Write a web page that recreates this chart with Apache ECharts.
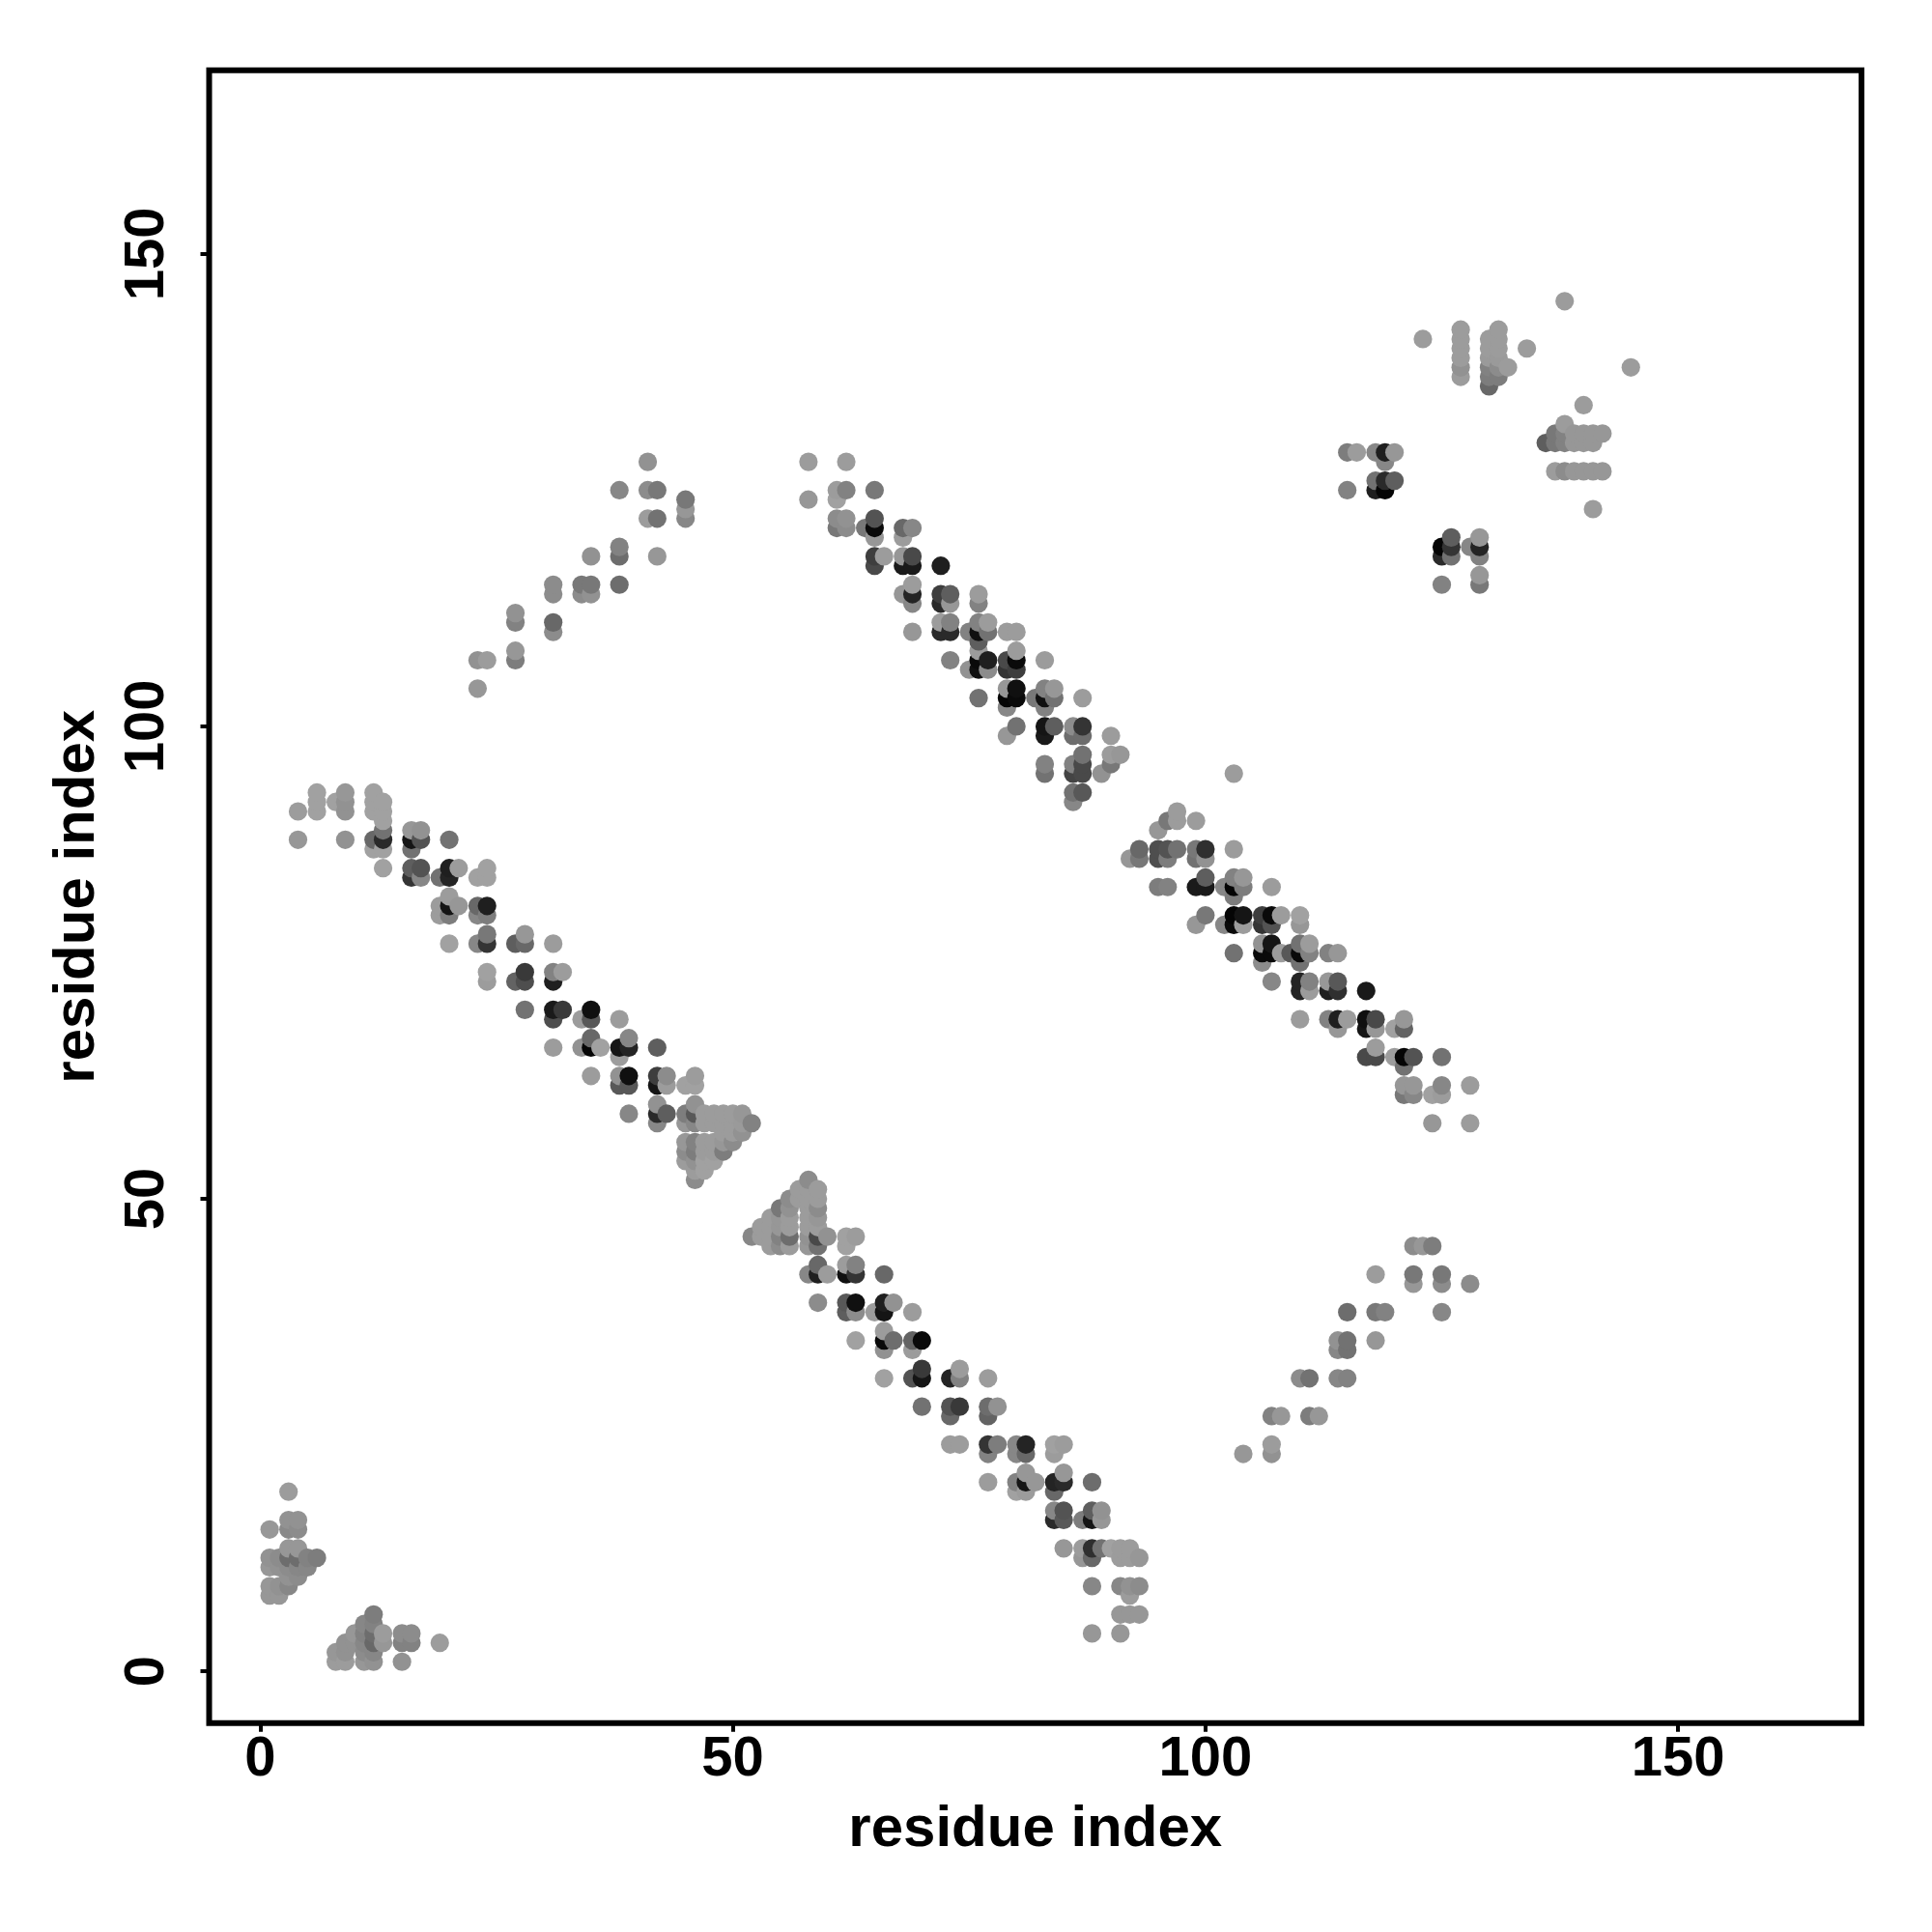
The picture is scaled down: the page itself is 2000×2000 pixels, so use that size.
<!DOCTYPE html>
<html>
<head>
<meta charset="utf-8">
<style>html,body{margin:0;padding:0;background:#fff}#c{width:2000px;height:2000px}</style>
<script src="https://cdn.jsdelivr.net/npm/echarts@6/dist/echarts.min.js"></script>
</head>
<body>
<div id="c"></div>
<script>
// Each entry: [residue x, residue y, grey level 0-255]
const cornerA = [[3,19,150],[1,15,145],[3,16,140],[4,16,140],[3,15,132],[4,15,135],[3,13,145],[4,13,145],
[1,12,140],[2,12,135],[3,12,105],[4,12,105],[5,12,125],[6,12,120],[1,11,145],[2,11,140],[3,11,135],[4,11,130],[5,11,130],
[3,10,140],[4,10,135],[1,9,145],[2,9,140],[3,9,130],[1,8,145],[2,8,145]];
const cornerB = [[12,6,120],[11,5,130],[12,5,125],[10,4,145],[11,4,125],[12,4,105],[13,4,150],[15,4,135],[16,4,135],
[9,3,140],[10,3,140],[11,3,130],[12,3,100],[13,3,145],[15,3,125],[16,3,125],[19,3,150],[8,2,145],[9,2,140],[11,2,135],[12,2,130],
[8,1,150],[9,1,150],[11,1,145],[12,1,140],[15,1,140]];
const diagA1 = [[6,93,155],[6,92,155],[6,91,155],[9,93,145],[8,92,155],[9,92,140],[9,91,140],[4,91,150],[4,88,145],
[12,93,155],[12,92,155],[13,92,155],[12,91,155],[13,91,155],[13,90,155],[9,88,140],[12,88,100],[13,89,110],[13,88,40],[12,87,155],[13,87,155],[13,85,155],
[16,89,145],[17,89,140],[16,88,20],[17,88,80],[16,87,110],[20,88,110],[16,85,90],[17,85,80],[16,84,50],[17,84,130],[19,84,110],[20,85,30],[20,84,35],[21,85,150],
[23,84,155],[24,85,155],[24,84,155],[20,82,150],[19,81,150],[20,81,20],[21,81,145],[19,80,150],[20,80,120],[23,81,100],[24,81,30],[23,80,130],[24,80,120],
[20,77,155],[23,77,130],[24,78,115],[24,77,50],[27,77,90],[28,78,145],[28,77,100],[31,77,150],[24,74,155],[24,73,150],[27,73,95],[28,74,55],[28,73,75],
[31,74,125],[32,74,150],[31,73,30],[28,70,110],[31,70,25],[32,70,55],[31,69,75],[34,69,150],[35,70,15],[35,69,85],[35,67,100],[31,66,150],[34,66,140],[35,66,5],[36,66,155],[35,63,150]];
const diagA2 = [[38,69,150],[38,66,20],[39,67,130],[39,66,35],[38,65,150],[42,66,90],[38,63,140],[39,63,15],[38,62,85],[39,62,85],
[42,63,60],[43,63,135],[42,62,20],[43,62,150],[45,62,155],[46,63,150],[46,62,155],[39,59,130],[42,60,140],[42,59,40],[43,59,90],[42,58,130],
[45,59,120],[46,60,140],[46,59,85],[45,58,145],[46,58,130]];
const triangleA = [[47,59,150],[48,59,150],[49,59,150],[50,59,150],[51,59,145],[47,58,150],[48,58,150],[49,58,150],[50,58,150],[51,58,148],[52,58,125],
[49,57,150],[50,57,150],[51,57,140],[45,56,145],[46,56,125],[47,56,150],[48,56,150],[49,56,145],[50,56,135],[45,55,135],[46,55,120],[47,55,150],[48,55,150],[49,55,120],
[45,54,150],[46,54,140],[47,54,155],[48,54,155],[46,53,150],[47,53,155],[46,52,135]];
const triangleB = [[58,52,135],[57,51,150],[58,51,150],[59,51,150],[56,50,135],[57,50,150],[58,50,150],[59,50,150],[55,49,115],[56,49,140],[58,49,150],[59,49,135],
[54,48,150],[55,48,145],[56,48,150],[58,48,150],[59,48,145],[53,47,150],[54,47,150],[55,47,145],[56,47,150],[58,47,150],[59,47,150],
[52,46,130],[53,46,150],[54,46,150],[55,46,125],[56,46,105],[58,46,140],[59,46,70],[60,46,140],[54,45,150],[55,45,135],[56,45,150],[58,45,145],[59,45,110],
[62,46,155],[63,46,150],[62,45,155]];
const diagA3 = [[59,43,100],[58,42,130],[59,42,30],[60,42,150],[62,43,150],[63,43,125],[62,42,15],[63,42,50],[66,42,100],
[59,39,135],[62,39,85],[63,39,15],[62,38,90],[63,38,135],[65,38,150],[66,39,30],[66,38,20],[67,39,140],[69,38,150],
[63,35,155],[66,36,150],[66,35,10],[67,35,105],[66,34,140],[69,35,95],[70,35,10],[69,34,150],
[66,31,155],[69,31,80],[70,32,55],[70,31,20],[73,31,35],[74,32,150],[74,31,125],[77,31,150],
[70,28,110],[73,28,80],[74,28,55],[73,27,100],[77,28,105],[78,28,140],[77,27,95],
[73,24,150],[74,24,150],[77,24,50],[78,24,120],[77,23,125],[80,24,130],[81,24,35],[80,23,130],[81,23,100],[84,24,155],[85,24,150],[84,23,150],
[77,20,150],[80,20,125],[81,21,145],[81,20,20],[82,20,145],[80,19,155],[81,19,150],[84,20,35],[85,20,40],[85,21,145],[84,19,100],[88,20,105],
[84,17,130],[85,17,80],[84,16,40],[85,16,85],[87,16,120],[88,17,90],[88,16,20],[89,17,140],[89,16,145],
[85,13,145],[87,13,150],[88,13,45],[89,13,110],[90,13,155],[91,13,150],[92,13,150],[87,12,145],[88,12,100],[91,12,150],[92,12,150],[93,12,145],
[88,9,130],[91,9,130],[92,9,140],[93,9,135],[92,8,150],[91,6,145],[92,6,145],[93,6,145],[88,4,145],[91,4,145]];
const diagB1 = [[58,128,150],[62,128,150],[58,124,145],[61,125,150],[62,125,125],[61,124,155],[65,125,115],[61,122,135],[62,122,140],[61,121,115],[62,121,135],
[64,121,115],[65,122,80],[65,121,10],[65,120,145],[68,121,100],[69,121,130],[68,120,150],[65,118,60],[66,118,150],[65,117,70],
[68,118,145],[69,118,70],[68,117,25],[69,117,25],[72,117,30],[68,114,145],[69,115,150],[69,114,35],[69,113,130],[72,114,60],[73,114,90],[72,113,40],[73,113,145],[76,114,150],[76,113,125],
[69,110,145],[72,111,150],[73,111,125],[72,110,40],[73,110,40],[75,110,125],[76,111,125],[77,111,150],[76,110,15],[77,110,110],[76,109,90],[79,110,150],[80,110,150],
[73,107,125],[76,108,150],[75,106,140],[76,107,10],[77,107,30],[76,106,15],[77,106,135],[79,107,70],[80,108,150],[80,107,10],[79,106,50],[80,106,60],[83,107,150],
[76,103,110],[79,104,145],[80,104,15],[79,103,5],[80,103,10],[79,102,130],[82,103,115],[83,104,125],[84,104,145],[83,103,15],[84,103,110],[83,102,125],[87,103,150],
[80,100,110],[79,99,145],[83,100,20],[84,100,90],[83,99,25],[86,100,135],[87,100,50],[86,99,105],[87,99,105],[90,99,150],[90,97,150],[91,97,145],[90,96,115],[89,95,140],
[83,96,125],[83,95,110],[87,97,110],[86,96,125],[87,96,70],[86,95,65],[87,95,70],[86,93,110],[87,93,85],[86,92,130]];
const diagB2 = [[103,95,150],[97,91,150],[96,90,115],[97,90,150],[99,90,150],[95,89,145],[93,87,100],[92,86,145],[93,86,115],[95,87,75],[96,87,80],[97,87,110],[95,86,75],[96,86,120],
[99,87,115],[100,87,45],[99,86,110],[100,86,140],[103,87,150],[95,83,120],[96,83,125],[99,83,25],[100,84,90],[100,83,25],[102,83,130],[103,84,125],[104,84,145],[103,83,5],[104,83,120],[103,82,120],[107,83,150],
[100,80,115],[99,79,145],[102,79,130],[103,80,5],[104,80,20],[103,79,10],[104,79,150],[106,80,60],[107,80,10],[108,80,150],[106,79,50],[107,79,80],[110,80,155],[110,79,145],
[103,76,110],[106,77,140],[107,77,20],[106,76,10],[107,76,10],[106,75,135],[108,76,150],[109,76,85],[110,77,110],[111,77,150],[110,76,10],[111,76,125],[110,75,110],[113,76,125],[114,76,145],
[107,73,130],[110,73,35],[111,73,125],[110,72,35],[111,72,150],[113,73,145],[114,73,85],[113,72,30],[114,72,45],[117,72,25],
[110,69,150],[113,69,125],[114,69,30],[115,69,150],[114,68,145],[117,69,15],[118,69,70],[117,68,20],[118,68,145],[120,68,155],[121,69,145],[121,68,95],
[117,65,70],[118,66,150],[118,65,70],[120,65,150],[121,65,5],[122,65,80],[121,64,110],[125,65,110],[121,62,145],[122,62,145],[121,61,115],[122,61,130],
[124,61,155],[125,62,130],[125,61,150],[128,62,150],[124,58,145],[128,58,150]];
const upperRight = [[138,145,150],[123,141,150],[134,140,150],[145,138,150],
[127,142,150],[127,141,150],[127,140,150],[127,139,150],[127,138,140],[127,137,150],
[130,141,150],[130,140,150],[130,139,148],[130,138,125],[130,137,120],[130,136,100],
[131,142,150],[131,141,150],[131,140,150],[131,139,148],[131,138,135],[131,137,120],[132,138,150],
[140,134,150],[138,132,150],[137,131,115],[136,130,90],[137,130,115],[138,131,125],[138,130,125],[139,131,145],[140,131,145],[141,131,145],[142,131,145],[139,130,145],[140,130,145],[141,130,145],
[137,127,150],[138,127,135],[139,127,145],[140,127,145],[141,127,145],[142,127,145],[141,123,150]];
const midRight = [[115,129,120],[116,129,150],[118,129,130],[119,129,30],[120,129,145],[119,128,130],[115,125,125],[118,126,110],[119,126,40],[120,126,90],[118,125,30],[119,125,5],
[125,119,5],[126,120,90],[126,119,50],[125,118,40],[126,118,110],[128,119,130],[129,120,145],[129,119,35],[129,118,125],[125,115,125],[129,116,145],[129,115,115]];
const arcLower = [[122,45,135],[123,45,145],[124,45,120],[118,42,150],[122,42,115],[122,41,145],[125,42,115],[125,41,135],[128,41,135],
[115,38,105],[118,38,115],[119,38,125],[125,38,130],[114,35,140],[115,35,110],[114,34,130],[115,34,110],[118,35,145],
[110,31,135],[111,31,110],[114,31,130],[115,31,125],[107,27,125],[108,27,145],[111,27,120],[112,27,145],[107,24,150],[107,23,140],[104,23,145]];
const arcUpper = [[41,128,140],[38,125,130],[41,125,135],[42,125,115],[45,124,115],[45,123,145],[45,122,130],[41,122,150],[42,122,110],
[35,118,140],[38,119,125],[38,118,105],[42,118,145],[31,115,135],[31,114,135],[34,115,115],[35,115,115],[34,114,135],[35,114,140],[38,115,105],
[27,112,140],[27,111,125],[31,111,100],[31,110,135],[27,108,145],[27,107,120],[23,107,140],[24,107,150],[23,104,145]];
const tickValues = [0, 50, 100, 150];
const axisTitle = 'residue index';

// Later residues paint over earlier ones, as in the reference.
const points = [].concat(cornerA, cornerB, diagA1, diagA2, triangleA, triangleB, diagA3,
  diagB1, diagB2, upperRight, midRight, arcLower, arcUpper)
  .sort((a, b) => a[0] - b[0] || a[1] - b[1]);

const font = {fontFamily: 'Liberation Sans', fontWeight: 'bold', color: '#000'};
function axis(extra) {
  return Object.assign({
    type: 'value',
    name: axisTitle,
    nameLocation: 'middle',
    nameMoveOverlap: false,
    nameTextStyle: Object.assign({fontSize: 60}, font),
    splitLine: {show: false},
    axisLine: {show: false, onZero: false},
    axisTick: {show: true, length: 9, inside: false, customValues: tickValues, lineStyle: {color: '#000', width: 4}}
  }, extra);
}
const chart = echarts.init(document.getElementById('c'), null, {renderer: 'canvas'});
chart.setOption({
  animation: false,
  backgroundColor: '#fff',
  grid: {show: true, left: 216.5, right: 73, top: 72.7, bottom: 216.2, borderColor: '#000', borderWidth: 6, backgroundColor: 'transparent'},
  xAxis: axis({
    min: -5.4, max: 169.4, nameGap: 81,
    axisLabel: Object.assign({fontSize: 58, margin: 9, customValues: tickValues}, font)
  }),
  yAxis: axis({
    min: -5.5, max: 169.45, nameGap: 106, nameRotate: 90,
    axisLabel: Object.assign({fontSize: 58, margin: 35, rotate: 90, customValues: tickValues}, font)
  }),
  series: [{
    type: 'scatter',
    symbol: 'circle',
    symbolSize: 19.2,
    progressive: 0,
    silent: true,
    data: points,
    encode: {x: 0, y: 1},
    itemStyle: {opacity: 1, color: p => { const g = Math.round(p.data[2] * 1.04); return `rgb(${g},${g},${g})`; }}
  }]
});
</script>
</body>
</html>
